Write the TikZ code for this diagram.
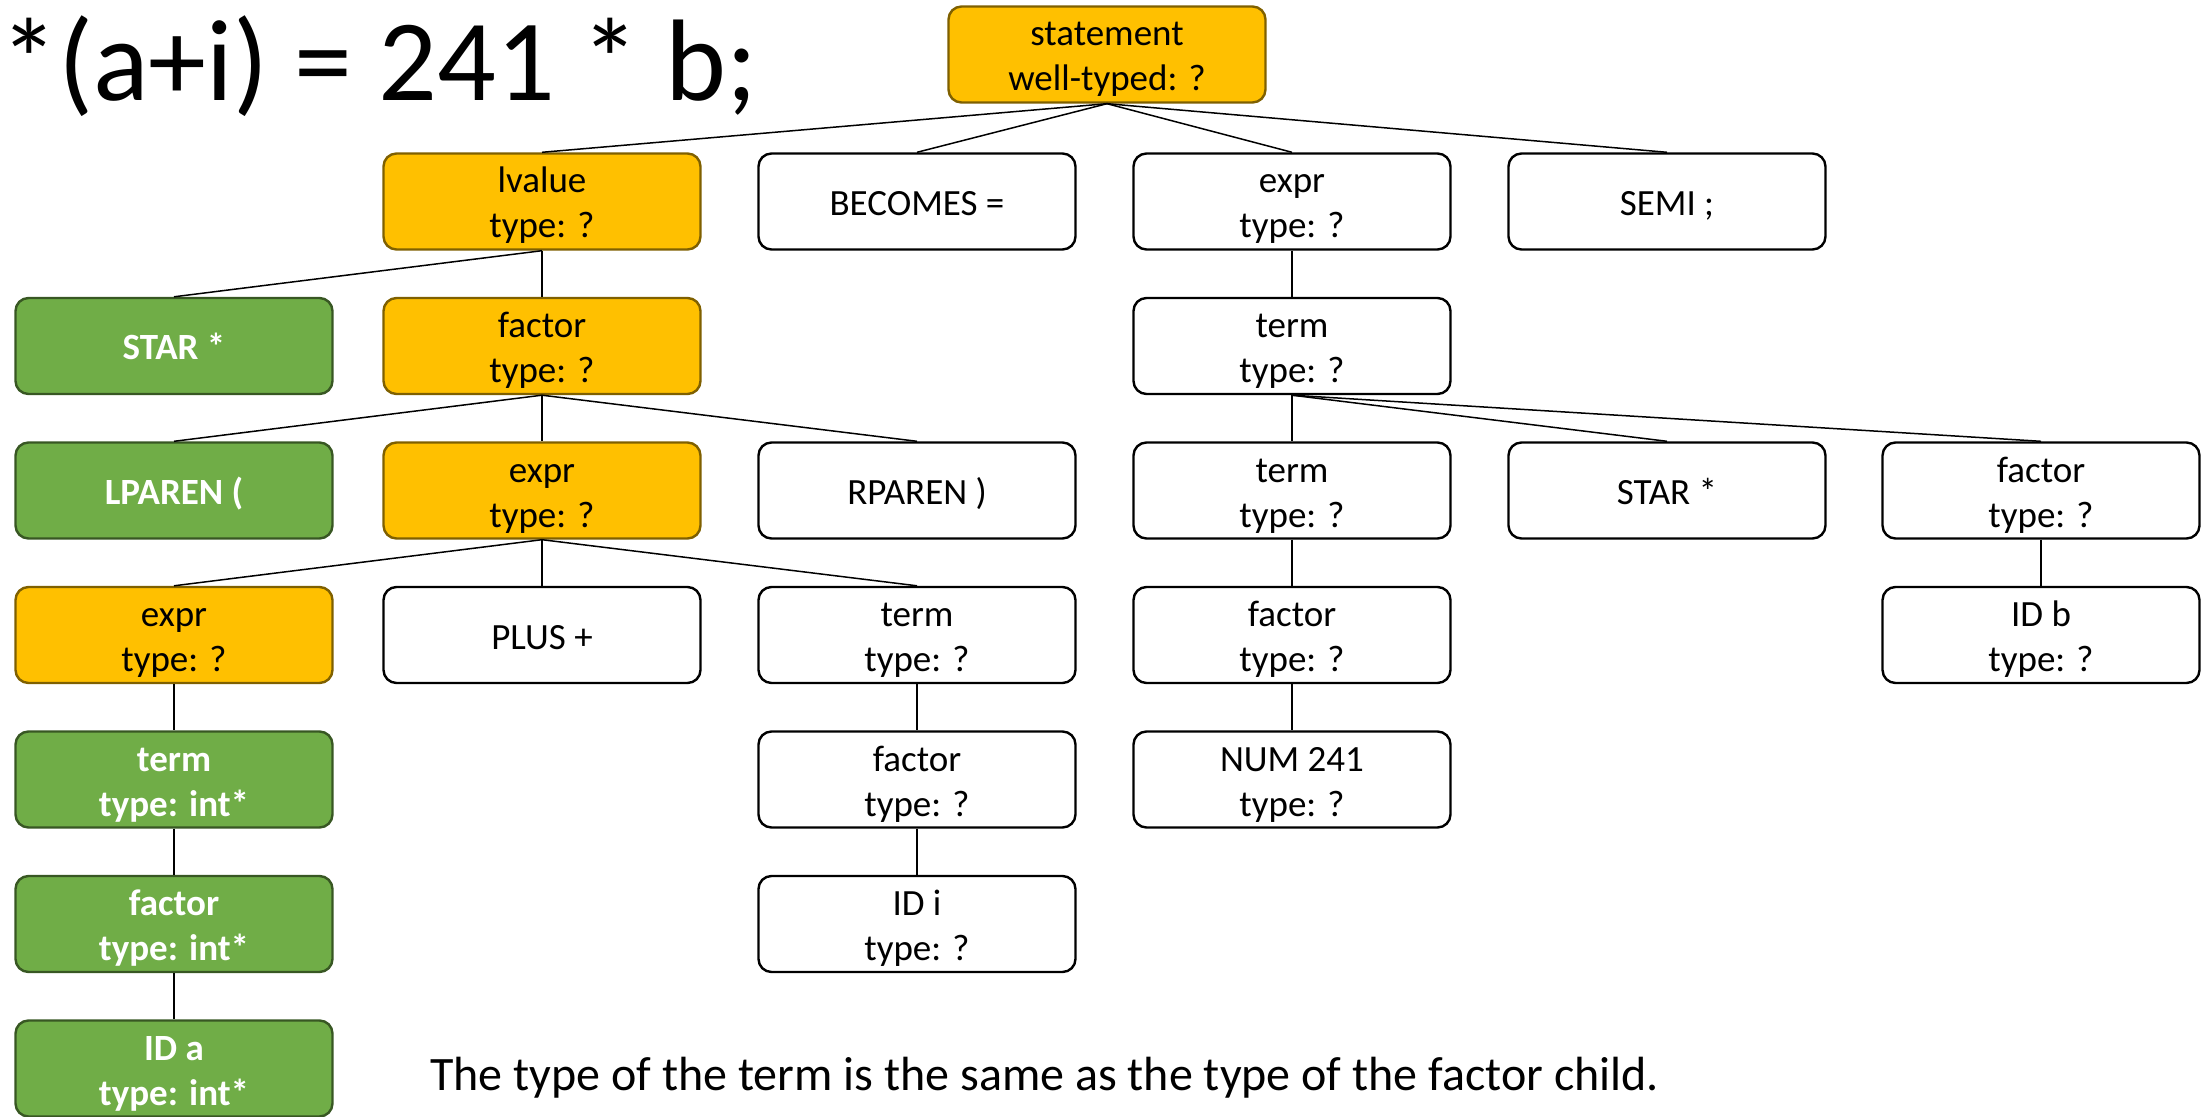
\documentclass[tikz,border=0pt]{standalone}
\usepackage{fontspec}
\setmainfont{Carlito}
\begin{document}
\begin{tikzpicture}[x=0.5pt,y=-0.5pt,
  box/.style={rounded corners=6.5pt, line width=1.2pt, minimum width=158.5pt,
    minimum height=48pt, inner sep=0pt, align=center,
    text height=36.5pt, text depth=0pt,
    font=\fontsize{18.5}{22.5}\selectfont},
  oneline/.style={text height=14pt},
  plain/.style={box, draw=black, fill=white, text=black},
  pending/.style={box, draw=golddark, fill=gold, text=black},
  done/.style={box, draw=leafdark, fill=leaf, text=white,
    font=\fontsize{18.5}{22.5}\selectfont\bfseries},
  edge/.style={line width=0.75pt, draw=black}]
\definecolor{gold}{HTML}{FFC000}
\definecolor{golddark}{HTML}{7F6000}
\definecolor{leaf}{HTML}{70AD47}
\definecolor{leafdark}{HTML}{385723}
\useasboundingbox (0,0) rectangle (2211,1117);

% source line being typed
\node[anchor=base west, inner sep=0pt, font=\fontsize{58}{68}\selectfont]
  (src) at (0,101) {*(a+i) = 241 * b;};

% parse tree nodes
\node[pending] (stmt) at (1107,54.5) {statement\\well-typed: ?};

\node[pending] (lval) at (542,201.5) {lvalue\\type: ?};
\node[plain, oneline] (becomes) at (917,201.5) {BECOMES =};
\node[plain]   (rexpr) at (1292,201.5) {expr\\type: ?};
\node[plain, oneline] (semi) at (1667,201.5) {SEMI ;};

\node[done, oneline] (star1) at (174,346) {STAR *};
\node[pending] (lfact) at (542,346) {factor\\type: ?};
\node[plain]   (rterm) at (1292,346) {term\\type: ?};

\node[done, oneline] (lparen) at (174,490.5) {LPAREN (};
\node[pending] (iexpr) at (542,490.5) {expr\\type: ?};
\node[plain, oneline] (rparen) at (917,490.5) {RPAREN )};
\node[plain]   (rterm2) at (1292,490.5) {term\\type: ?};
\node[plain, oneline] (star2) at (1667,490.5) {STAR *};
\node[plain]   (bfact) at (2041,490.5) {factor\\type: ?};

\node[pending] (aexpr) at (174,635) {expr\\type: ?};
\node[plain, oneline] (plus) at (542,635) {PLUS +};
\node[plain]   (iterm) at (917,635) {term\\type: ?};
\node[plain]   (nfact) at (1292,635) {factor\\type: ?};
\node[plain]   (idb) at (2041,635) {ID b\\type: ?};

\node[done]    (aterm) at (174,779.5) {term\\type: int*};
\node[plain]   (ifact) at (917,779.5) {factor\\type: ?};
\node[plain]   (num) at (1292,779.5) {NUM 241\\type: ?};

\node[done]    (afact) at (174,924) {factor\\type: int*};
\node[plain]   (idi) at (917,924) {ID i\\type: ?};

\node[done]    (ida) at (174,1068.5) {ID a\\type: int*};

% tree edges, parent bottom to child top
\foreach \p/\c in {stmt/lval, stmt/becomes, stmt/rexpr, stmt/semi,
    lval/star1, lval/lfact,
    lfact/lparen, lfact/iexpr, lfact/rparen,
    iexpr/aexpr, iexpr/plus, iexpr/iterm,
    aexpr/aterm, aterm/afact, afact/ida,
    iterm/ifact, ifact/idi,
    rexpr/rterm, rterm/rterm2, rterm/star2, rterm/bfact,
    rterm2/nfact, nfact/num, bfact/idb}
  \draw[edge] (\p.south) -- (\c.north);

% explanatory note
\node[anchor=base west, inner sep=0pt, font=\fontsize{24}{29}\selectfont]
  (note) at (430,1090) {The type of the term is the same as the type of the factor child.};
\end{tikzpicture}
\end{document}
